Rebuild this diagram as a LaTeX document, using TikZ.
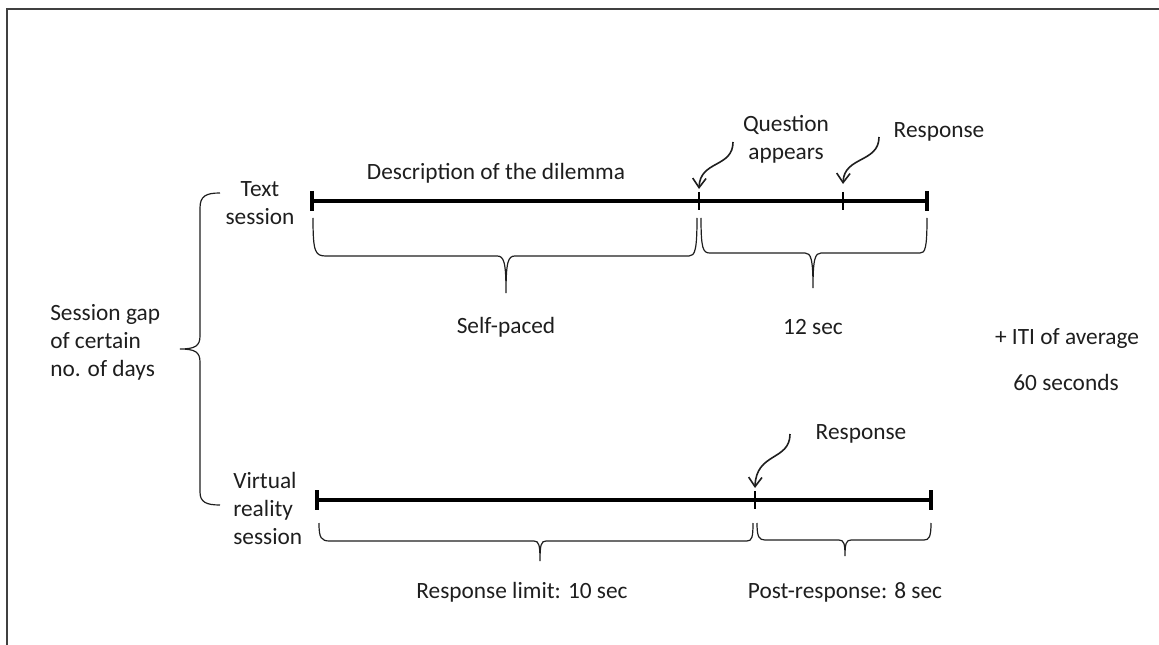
\documentclass[tikz,border=0pt]{standalone}
\usepackage{fontspec}
\setmainfont{Carlito}
\usetikzlibrary{arrows.meta}
\definecolor{txt}{RGB}{30,30,30}
\begin{document}
\begin{tikzpicture}[x=0.75pt,y=-0.75pt,
  lbl/.style={text=txt,font=\fontsize{17.5}{21}\selectfont,inner sep=0pt},
  tline/.style={line width=3pt},
  endtick/.style={line width=2.4pt},
  midtick/.style={line width=2.2pt},
  brc/.style={line width=0.9pt,draw=txt},
  curl/.style={line width=1.2pt,draw=txt,-{Straight Barb[length=7pt,width=10pt]}},
  frame/.style={line width=0.9pt,draw=black!75}]
\useasboundingbox (0,0) rectangle (1159,645);
\draw[frame] (7,645) -- (7,9) -- (1159,9);

% top timeline
\coordinate (t0) at (312,201);
\coordinate (t1) at (699,201);
\coordinate (t2) at (843,201);
\coordinate (t3) at (927,201);
\draw[tline] (t0) -- (t3);
\draw[endtick] (312,191) -- (312,211);
\draw[midtick] (699,192) -- (699,210);
\draw[midtick] (843,192) -- (843,210);
\draw[endtick] (927,191) -- (927,211);

% bottom timeline
\coordinate (b0) at (317,500);
\coordinate (b1) at (755,500);
\coordinate (b2) at (931,500);
\draw[tline] (b0) -- (b2);
\draw[endtick] (317,490) -- (317,510);
\draw[midtick] (755,491) -- (755,509);
\draw[endtick] (931,490) -- (931,510);

% braces under top timeline
\draw[brc] (313,218) .. controls (313,252) and (315,256) .. (326,256) -- (497,256)
  .. controls (504,256) and (506,262) .. (506,293)
  .. controls (506,262) and (508,256) .. (515,256) -- (689,256)
  .. controls (695,256) and (697,250) .. (697,218);
\draw[brc] (701,218) .. controls (701,249) and (703,253) .. (710,253) -- (805,253)
  .. controls (811,253) and (813,259) .. (813,288)
  .. controls (813,259) and (815,253) .. (821,253) -- (920,253)
  .. controls (925,253) and (927,249) .. (927,218);

% braces under bottom timeline
\draw[brc] (319,523) .. controls (319,538) and (321,541) .. (330,541) -- (534,541)
  .. controls (539,541) and (540,545) .. (540,561)
  .. controls (540,545) and (541,541) .. (546,541) -- (747,541)
  .. controls (752,541) and (753,537) .. (753,523);
\draw[brc] (757,523) .. controls (757,537) and (759,540) .. (765,540) -- (839,540)
  .. controls (844,540) and (845,544) .. (845,556)
  .. controls (845,544) and (846,540) .. (851,540) -- (924,540)
  .. controls (929,540) and (931,537) .. (931,523);

% big left brace
\draw[brc] (220,193) .. controls (206,193) and (200,196) .. (200,208) -- (200,336)
  .. controls (200,346) and (195,349) .. (180,349)
  .. controls (195,349) and (200,352) .. (200,362) -- (200,492)
  .. controls (200,502) and (206,505) .. (220,505);

% labels
\node[lbl,align=center] (textsess) at (260,203) {Text\\session};
\node[lbl] (desc) at (496,173) {Description of the dilemma};
\node[lbl,align=center] (quest) at (786,139) {Question\\appears};
\node[lbl] (resp1) at (939,132) {Response};
\node[lbl] (selfp) at (506,327) {Self-paced};
\node[lbl] (twelve) at (813,327) {12 sec};
\node[lbl] (iti) at (1067,339) {+ ITI of average};
\node[lbl] (sixty) at (1066,382) {60 seconds};
\node[lbl,align=left,anchor=west] (gap) at (50,342) {Session gap\\of certain\\no. of days};
\node[lbl,align=left,anchor=west] (vr) at (233,508) {Virtual\\reality\\session};
\node[lbl] (resp2) at (861,434) {Response};
\node[lbl] (rlimit) at (522,592) {Response limit: 10 sec};
\node[lbl] (post) at (845,592) {Post-response: 8 sec};

% curly arrows
\coordinate (q0) at (733,142);
\coordinate (q1) at (699,189);
\draw[curl] (q0) .. controls (733,168) and (700,160) .. (q1);
\coordinate (r0) at (879,137);
\coordinate (r1) at (843,184);
\draw[curl] (r0) .. controls (879,163) and (844,156) .. (r1);
\coordinate (s0) at (790,434);
\coordinate (s1) at (755,488);
\draw[curl] (s0) .. controls (790,461) and (756,452) .. (s1);
\end{tikzpicture}
\end{document}
